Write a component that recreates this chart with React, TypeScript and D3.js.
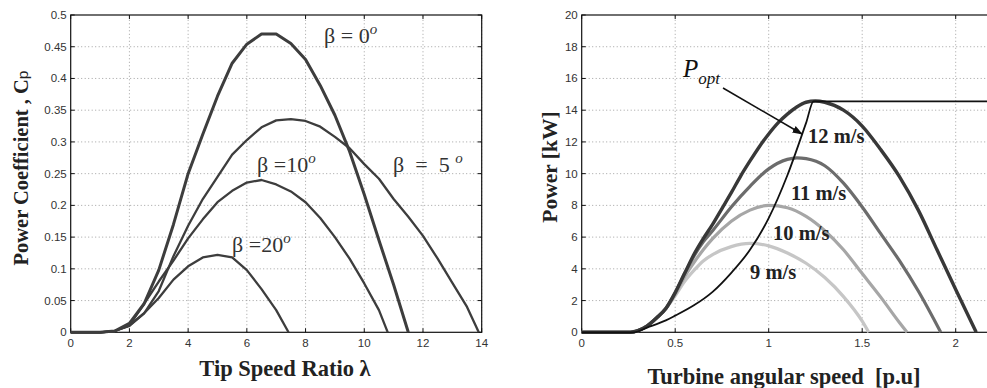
import { useEffect, useRef } from 'react'
import * as d3 from 'd3'

// ---- left panel: Cp vs tip speed ratio ----
const lambdaTicks = [0, 2, 4, 6, 8, 10, 12, 14]
const cpTicks = [0, 0.05, 0.1, 0.15, 0.2, 0.25, 0.3, 0.35, 0.4, 0.45, 0.5]

const beta0: [number, number][] = [
  [0, 0], [0.5, 0], [1, 0], [1.5, 0.002], [2, 0.014], [2.5, 0.045], [3, 0.098], [3.5, 0.17],
  [4, 0.25], [4.5, 0.312], [5, 0.372], [5.5, 0.424], [6, 0.454], [6.5, 0.47], [7, 0.47],
  [7.5, 0.455], [8, 0.43], [8.5, 0.389], [9, 0.342], [9.5, 0.285], [10, 0.217], [10.5, 0.145],
  [11, 0.075], [11.5, 0],
]
const beta5: [number, number][] = [
  [0, 0], [0.5, 0], [1, 0], [1.5, 0.002], [2, 0.011], [2.5, 0.03], [3, 0.065], [3.5, 0.12],
  [4, 0.168], [4.5, 0.21], [5, 0.245], [5.5, 0.28], [6, 0.303], [6.5, 0.323], [7, 0.334],
  [7.5, 0.336], [8, 0.333], [8.5, 0.324], [9, 0.308], [9.5, 0.29], [10, 0.265], [10.5, 0.242],
  [11, 0.21], [11.5, 0.182], [12, 0.152], [12.5, 0.116], [13, 0.078], [13.5, 0.04], [13.9, 0],
]
const beta10: [number, number][] = [
  [0, 0], [0.5, 0], [1, 0], [1.5, 0.002], [2, 0.011], [2.5, 0.045], [3, 0.08], [3.5, 0.113],
  [4, 0.148], [4.5, 0.178], [5, 0.205], [5.5, 0.223], [6, 0.236], [6.5, 0.24], [7, 0.233],
  [7.5, 0.222], [8, 0.205], [8.5, 0.18], [9, 0.15], [9.5, 0.116], [10, 0.077], [10.5, 0.035],
  [10.8, 0],
]
const beta20: [number, number][] = [
  [0, 0], [0.5, 0], [1, 0], [1.5, 0.002], [2, 0.01], [2.5, 0.03], [3, 0.054], [3.5, 0.083],
  [4, 0.104], [4.5, 0.118], [5, 0.122], [5.5, 0.118], [6, 0.098], [6.5, 0.068], [7, 0.035],
  [7.42, 0],
]

// ---- right panel: power vs turbine speed ----
const speedTicks = [0, 0.5, 1, 1.5, 2]
const powerTicks = [0, 2, 4, 6, 8, 10, 12, 14, 16, 18, 20]

const wind12: [number, number][] = [
  [0, 0], [0.26, 0], [0.3, 0.1], [0.35, 0.4], [0.4, 0.9], [0.45, 1.5], [0.5, 2.5], [0.55, 3.7],
  [0.6, 4.9], [0.65, 5.9], [0.7, 6.8], [0.75, 7.8], [0.8, 8.8], [0.85, 9.85], [0.9, 10.8],
  [0.95, 11.7], [1, 12.5], [1.05, 13.2], [1.1, 13.75], [1.15, 14.2], [1.2, 14.5], [1.25, 14.58],
  [1.3, 14.5], [1.4, 14.0], [1.5, 13.0], [1.6, 11.5], [1.7, 9.8], [1.8, 7.7], [1.9, 5.2],
  [2.0, 2.7], [2.11, 0],
]
const wind11: [number, number][] = [
  [0, 0], [0.26, 0], [0.3, 0.1], [0.35, 0.4], [0.4, 0.9], [0.45, 1.5], [0.5, 2.5], [0.55, 3.7],
  [0.6, 4.8], [0.65, 5.7], [0.7, 6.4], [0.8, 7.9], [0.9, 9.2], [1, 10.3], [1.1, 10.9],
  [1.15, 11.0], [1.2, 10.95], [1.3, 10.5], [1.4, 9.4], [1.5, 7.9], [1.6, 6.2], [1.7, 4.5],
  [1.8, 2.6], [1.92, 0],
]
const wind10: [number, number][] = [
  [0, 0], [0.26, 0], [0.3, 0.1], [0.35, 0.4], [0.4, 0.9], [0.45, 1.5], [0.5, 2.4], [0.55, 3.5],
  [0.6, 4.4], [0.65, 5.2], [0.7, 5.9], [0.8, 7.0], [0.9, 7.7], [1, 8.0], [1.1, 7.85],
  [1.2, 7.3], [1.3, 6.4], [1.4, 5.2], [1.5, 3.7], [1.6, 2.2], [1.7, 0.6], [1.74, 0],
]
const wind9: [number, number][] = [
  [0, 0], [0.26, 0], [0.3, 0.1], [0.35, 0.4], [0.4, 0.9], [0.45, 1.5], [0.5, 2.3], [0.55, 3.2],
  [0.6, 3.9], [0.65, 4.5], [0.7, 4.9], [0.8, 5.4], [0.9, 5.6], [1, 5.45], [1.1, 5.0],
  [1.2, 4.35], [1.3, 3.45], [1.4, 2.25], [1.5, 0.7], [1.535, 0],
]
const pOpt: [number, number][] = [
  [0, 0], [0.28, 0], [0.35, 0.3], [0.45, 0.75], [0.5, 1.05], [0.6, 1.7], [0.7, 2.55], [0.8, 3.75],
  [0.9, 5.2], [1.0, 7.2], [1.1, 9.9], [1.2, 13.2], [1.24, 14.55], [2.2, 14.55],
]

const GRID = '#8a8a8a'
const TICK_FONT = '"Liberation Sans", Arial, sans-serif'
const SERIF = '"Liberation Serif", "Times New Roman", serif'

function drawFrame(
  g: d3.Selection<SVGGElement, unknown, null, undefined>,
  x: d3.ScaleLinear<number, number>,
  y: d3.ScaleLinear<number, number>,
  xTicks: number[],
  yTicks: number[],
  xFmt: (v: number) => string,
  yFmt: (v: number) => string,
) {
  const [x0, x1] = x.range()
  const [y0, y1] = y.range()
  // dotted grid
  xTicks.forEach(t => {
    if (t === x.domain()[0]) return
    g.append('line').attr('x1', x(t)).attr('x2', x(t)).attr('y1', y0).attr('y2', y1)
      .attr('stroke', GRID).attr('stroke-width', 0.8).attr('stroke-dasharray', '1,2.5')
  })
  yTicks.forEach(t => {
    if (t === y.domain()[0] || t === y.domain()[1]) return
    g.append('line').attr('x1', x0).attr('x2', x1).attr('y1', y(t)).attr('y2', y(t))
      .attr('stroke', GRID).attr('stroke-width', 0.8).attr('stroke-dasharray', '1,2.5')
  })
  // box
  g.append('rect').attr('x', x0).attr('y', y1).attr('width', x1 - x0).attr('height', y0 - y1)
    .attr('fill', 'none').attr('stroke', '#111').attr('stroke-width', 1.2)
  // inward ticks
  xTicks.forEach(t => {
    g.append('line').attr('x1', x(t)).attr('x2', x(t)).attr('y1', y0).attr('y2', y0 - 4).attr('stroke', '#111')
    g.append('line').attr('x1', x(t)).attr('x2', x(t)).attr('y1', y1).attr('y2', y1 + 4).attr('stroke', '#111')
    g.append('text').attr('x', x(t)).attr('y', y0 + 15).attr('text-anchor', 'middle')
      .attr('font-family', TICK_FONT).attr('font-size', 11.5).attr('fill', '#333').text(xFmt(t))
  })
  yTicks.forEach(t => {
    g.append('line').attr('x1', x0).attr('x2', x0 + 4).attr('y1', y(t)).attr('y2', y(t)).attr('stroke', '#111')
    g.append('line').attr('x1', x1).attr('x2', x1 - 4).attr('y1', y(t)).attr('y2', y(t)).attr('stroke', '#111')
    g.append('text').attr('x', x0 - 4).attr('y', y(t) + 4).attr('text-anchor', 'end')
      .attr('font-family', TICK_FONT).attr('font-size', 11.5).attr('fill', '#333').text(yFmt(t))
  })
}

export default function App() {
  const svgRef = useRef<SVGSVGElement | null>(null)

  useEffect(() => {
    if (!svgRef.current) return
    const svg = d3.select(svgRef.current)
    svg.selectAll('*').remove()
    const g = svg.append('g')

    svg.append('defs').append('marker')
      .attr('id', 'arrow').attr('viewBox', '0 0 10 10').attr('refX', 9).attr('refY', 5)
      .attr('markerWidth', 7).attr('markerHeight', 7).attr('orient', 'auto')
      .append('path').attr('d', 'M0,1.5 L10,5 L0,8.5 Z').attr('fill', '#111')

    // ===== left panel =====
    const xL = d3.scaleLinear().domain([0, 14]).range([70.7, 481.7])
    const yL = d3.scaleLinear().domain([0, 0.5]).range([332.3, 15])
    drawFrame(g, xL, yL, lambdaTicks, cpTicks, v => String(v), v => String(+v.toFixed(2)))

    const lineL = d3.line<[number, number]>().x(d => xL(d[0])).y(d => yL(d[1]))
    const leftSeries: { data: [number, number][]; w: number }[] = [
      { data: beta20, w: 2.3 },
      { data: beta10, w: 2.3 },
      { data: beta5, w: 2.3 },
      { data: beta0, w: 3 },
    ]
    leftSeries.forEach(s => {
      g.append('path').datum(s.data).attr('d', lineL).attr('fill', 'none')
        .attr('stroke', '#3d3d3d').attr('stroke-width', s.w).attr('stroke-linejoin', 'round')
    })

    const betaLabel = (x: number, y: number, num: string, gap1: string) => {
      const t = g.append('text').attr('x', x).attr('y', y).attr('font-family', SERIF)
        .attr('font-size', 22).attr('fill', '#333').attr('xml:space', 'preserve')
      t.append('tspan').text('β')
      t.append('tspan').text(gap1)
      t.append('tspan').text(num)
      t.append('tspan').attr('dy', -9).attr('font-size', 15).attr('font-style', 'italic').text('o')
    }
    betaLabel(324, 43, '0', ' = ')
    betaLabel(257, 172, '10', ' =')
    betaLabel(393, 172, ' 5 ', '  = ')
    betaLabel(232, 252, '20', ' =')

    // axis titles
    g.append('text').attr('x', 285).attr('y', 376).attr('text-anchor', 'middle')
      .attr('font-family', SERIF).attr('font-weight', 'bold').attr('font-size', 22.5).attr('fill', '#222')
      .text('Tip Speed Ratio λ')
    const yt = g.append('text').attr('transform', 'translate(28,168) rotate(-90)').attr('text-anchor', 'middle')
      .attr('font-family', SERIF).attr('font-weight', 'bold').attr('font-size', 20.5).attr('fill', '#222')
    yt.append('tspan').text('Power Coefficient , C')
    yt.append('tspan').attr('font-family', TICK_FONT).attr('font-size', 15.5).attr('font-weight', 'normal').text('p')

    // ===== right panel =====
    const xR = d3.scaleLinear().domain([0, 2.2]).range([581.7, 581.7 + 2.2 * 187])
    const yR = d3.scaleLinear().domain([0, 20]).range([332.3, 15])
    drawFrame(g, xR, yR, speedTicks, powerTicks, v => String(v), v => String(v))

    const lineR = d3.line<[number, number]>().x(d => xR(d[0])).y(d => yR(d[1])).curve(d3.curveMonotoneX)
    const rightSeries: { data: [number, number][]; c: string; w: number }[] = [
      { data: wind9, c: '#c6c6c6', w: 3.2 },
      { data: wind10, c: '#a6a6a6', w: 3.2 },
      { data: wind11, c: '#6c6c6c', w: 3.2 },
      { data: wind12, c: '#383838', w: 3.4 },
      { data: pOpt, c: '#111', w: 1.8 },
    ]
    rightSeries.forEach(s => {
      g.append('path').datum(s.data).attr('d', lineR)
        .attr('fill', 'none').attr('stroke', s.c).attr('stroke-width', s.w).attr('stroke-linejoin', 'round')
    })

    const speedLabel = (x: number, y: number, s: string) => {
      g.append('text').attr('x', x).attr('y', y).attr('font-family', SERIF).attr('font-weight', 'bold')
        .attr('font-size', 20.5).attr('fill', '#222').text(s)
    }
    speedLabel(808, 143, '12 m/s')
    speedLabel(791, 200, '11 m/s')
    speedLabel(773, 240, '10 m/s')
    speedLabel(750, 279, '9 m/s')

    // P_opt annotation
    const pt = g.append('text').attr('x', 683).attr('y', 77).attr('font-family', SERIF)
      .attr('font-style', 'italic').attr('fill', '#111')
    pt.append('tspan').attr('font-size', 25).text('P')
    pt.append('tspan').attr('dy', 7).attr('font-size', 17).text('opt')
    g.append('line').attr('x1', 723).attr('y1', 88).attr('x2', 802).attr('y2', 134)
      .attr('stroke', '#111').attr('stroke-width', 1.5).attr('marker-end', 'url(#arrow)')

    g.append('text').attr('x', 784).attr('y', 384).attr('text-anchor', 'middle')
      .attr('font-family', SERIF).attr('font-weight', 'bold').attr('font-size', 22.5).attr('fill', '#222')
      .attr('xml:space', 'preserve').text('Turbine angular speed  [p.u]')
    g.append('text').attr('transform', 'translate(557,167) rotate(-90)').attr('text-anchor', 'middle')
      .attr('font-family', SERIF).attr('font-weight', 'bold').attr('font-size', 21.5).attr('fill', '#222')
      .text('Power [kW]')
  }, [])

  return (
    <svg ref={svgRef} width={987} height={388}
      style={{ position: 'absolute', left: 0, top: 0, background: '#fff' }} />
  )
}
